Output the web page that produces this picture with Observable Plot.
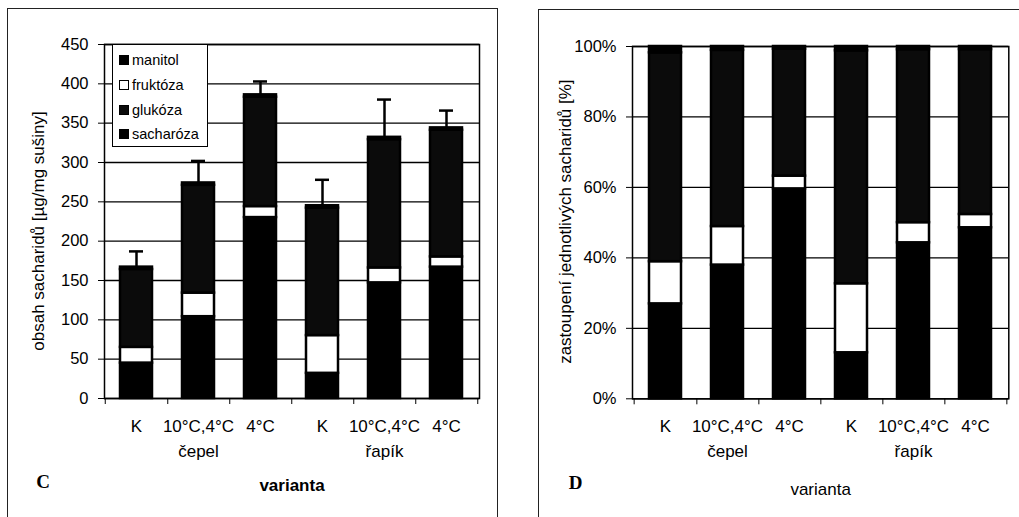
<!DOCTYPE html>
<html>
<head>
<meta charset="utf-8">
<script src="https://cdn.jsdelivr.net/npm/d3@7"></script>
<script src="https://cdn.jsdelivr.net/npm/@observablehq/plot@0.6"></script>
<style>
  body { margin: 0; background: #fff; }
  #page { position: relative; width: 1019px; height: 517px; overflow: hidden; background: #fff;
          font-family: "Liberation Sans", Arial, sans-serif; }
  .panel { position: absolute; border: 1.5px solid #222; box-sizing: border-box; pointer-events: none; z-index: 3; }
  #legend { position: absolute; left: 112px; top: 44px; width: 96px; height: 103px; border: 1px solid #000;
            box-sizing: border-box; background: #fff; padding-top: 3px; z-index: 4; }
  .row { height: 24.7px; display: flex; align-items: center; font-size: 14.5px; color: #000; }
  .sw { width: 10px; height: 10px; margin-left: 6px; margin-right: 3px; box-sizing: border-box; border: 1.5px solid #000; flex: none; }
</style>
</head>
<body>
<div id="page"></div>
<script>
// ---- data ----
const groups = ["čepel", "čepel", "čepel", "řapík", "řapík", "řapík"];
const variants = ["K", "10°C,4°C", "4°C", "K", "10°C,4°C", "4°C"];
const sugars = ["sacharóza", "fruktóza", "glukóza", "manitol"];       // stacking order, bottom to top
const legendOrder = ["manitol", "fruktóza", "glukóza", "sacharóza"];  // legend order, top to bottom
const sacharoza = [45, 104, 230, 32, 147, 167];
const fruktoza  = [20, 30, 14, 48, 19, 13];
const glukoza   = [99, 137, 139, 162, 163, 161];
const manitol   = [3, 3, 3, 3, 3, 3];
const errorUp   = [20, 28, 17, 33, 48, 22];
const ticksC = [0, 50, 100, 150, 200, 250, 300, 350, 400, 450];
const ticksD = [0, 0.2, 0.4, 0.6, 0.8, 1];
const sugarColors = ["#000000", "#ffffff", "#0b0b0b", "#000000"];
const titleC = "obsah sacharidů [µg/mg sušiny]";
const titleD = "zastoupení jednotlivých sacharidů [%]";
const xTitle = "varianta";

// ---- derived tables ----
const keys = groups.map((g, i) => g + "|" + variants[i]);
const variantOf = Object.fromEntries(keys.map((k, i) => [k, variants[i]]));
const groupOf = Object.fromEntries(keys.map((k, i) => [k, groups[i]]));
const seriesBy = {"sacharóza": sacharoza, "fruktóza": fruktoza, "glukóza": glukoza, "manitol": manitol};
const rows = keys.flatMap((k, i) => sugars.map(s => ({key: k, sugar: s, value: seriesBy[s][i]})));
const totals = keys.map((k, i) => {
  const total = sugars.reduce((a, s) => a + seriesBy[s][i], 0);
  return {key: k, total, upper: total + errorUp[i]};
});
const groupKeys = [keys[1], keys[4]];

const page = document.getElementById("page");
const font = '"Liberation Sans", Arial, sans-serif';

function makePlot({width, height, mL, mR, mT, mB, yDomain, yTicks, yFormat, normalize, errors,
                   title, titleDx, titleDy, xTitleBold, xTitleDy, letter, letterDx, letterDy}) {
  const step = (width - mL - mR) / keys.length;
  const marks = [
    Plot.gridY(yTicks, {stroke: "#000", strokeOpacity: 1, strokeWidth: 1.3}),
    Plot.barY(rows, Plot.stackY({
      x: "key", y: "value", z: "sugar", fill: "sugar",
      stroke: "#000", strokeWidth: 2.5,
      ...(normalize ? {offset: "normalize"} : {})
    })),
  ];
  if (errors) {
    marks.push(
      Plot.ruleX(totals, {x: "key", y1: "total", y2: "upper", stroke: "#000", strokeWidth: 2.5}),
      Plot.tickY(totals, {x: "key", y: "upper", stroke: "#000", strokeWidth: 2.5, insetLeft: 9, insetRight: 9})
    );
  }
  marks.push(
    Plot.frame({stroke: "#000", strokeWidth: 1.5}),
    Plot.axisY({ticks: yTicks, tickFormat: yFormat, tickSize: 6, tickPadding: 10, label: null, fontSize: 16.5}),
    Plot.axisX({ticks: keys, tickFormat: k => variantOf[k], tickSize: 0, tickPadding: 21, label: null, fontSize: 17}),
    Plot.axisX({ticks: groupKeys, tickFormat: k => groupOf[k], tickSize: 0, tickPadding: 46, label: null, fontSize: 17}),
    Plot.axisX({ticks: keys, tickFormat: () => "", tickSize: 6, dx: step / 2, label: null}),
    Plot.axisX({ticks: [keys[0]], tickFormat: () => "", tickSize: 6, dx: -step / 2, label: null}),
    Plot.text([title], {text: d => d, frameAnchor: "left", textAnchor: "middle", lineAnchor: "middle",
                        rotate: -90, dx: titleDx, dy: titleDy, fontSize: 17}),
    Plot.text([xTitle], {text: d => d, frameAnchor: "bottom", textAnchor: "middle", lineAnchor: "middle",
                         dy: xTitleDy, fontSize: 17, fontWeight: xTitleBold ? "bold" : "normal"}),
    Plot.text([letter], {text: d => d, frameAnchor: "bottom-left", textAnchor: "middle", lineAnchor: "middle",
                         dx: letterDx, dy: letterDy, fontSize: 19, fontWeight: "bold",
                         fontFamily: '"Liberation Serif", "Times New Roman", serif'})
  );
  return Plot.plot({
    width, height,
    marginLeft: mL, marginRight: mR, marginTop: mT, marginBottom: mB,
    style: {background: "transparent", fontFamily: font, fontSize: "16px", color: "#000", overflow: "visible", maxWidth: "none"},
    x: {type: "band", domain: keys, paddingInner: 0.48, paddingOuter: 0.24, label: null},
    y: {domain: yDomain, label: null},
    color: {type: "ordinal", domain: sugars, range: sugarColors},
    marks
  });
}

// Panel C
const svgC = makePlot({
  width: 505, height: 517, mL: 104, mR: 26, mT: 44, mB: 119,
  yDomain: [0, 450], yTicks: ticksC, yFormat: d => String(d),
  normalize: false, errors: true,
  title: titleC, titleDx: -66, titleDy: 9.5,
  xTitleBold: true, xTitleDy: 87,
  letter: "C", letterDx: -61.5, letterDy: 83
});
svgC.style.position = "absolute"; svgC.style.left = "0px"; svgC.style.top = "0px";
page.appendChild(svgC);

// Panel D
const svgD = makePlot({
  width: 509, height: 517, mL: 122, mR: 10.7, mT: 46, mB: 118.7,
  yDomain: [0, 1], yTicks: ticksD, yFormat: d => Math.round(d * 100) + "%",
  normalize: true, errors: false,
  title: titleD, titleDx: -66.7, titleDy: -1,
  xTitleBold: false, xTitleDy: 90.5,
  letter: "D", letterDx: -57, letterDy: 84
});
svgD.style.position = "absolute"; svgD.style.left = "510px"; svgD.style.top = "0px";
page.appendChild(svgD);

// Panel borders
const bC = document.createElement("div");
bC.className = "panel";
Object.assign(bC.style, {left: "7px", top: "8px", width: "491px", height: "530px"});
page.appendChild(bC);
const bD = document.createElement("div");
bD.className = "panel";
Object.assign(bD.style, {left: "538px", top: "9px", width: "500px", height: "530px"});
page.appendChild(bD);

// Legend for panel C
const legend = document.createElement("div");
legend.id = "legend";
const colorOf = Object.fromEntries(sugars.map((s, i) => [s, sugarColors[i]]));
for (const s of legendOrder) {
  const row = document.createElement("div");
  row.className = "row";
  const sw = document.createElement("div");
  sw.className = "sw";
  sw.style.background = colorOf[s];
  const label = document.createElement("span");
  label.textContent = s;
  row.appendChild(sw); row.appendChild(label);
  legend.appendChild(row);
}
page.appendChild(legend);
</script>
</body>
</html>
